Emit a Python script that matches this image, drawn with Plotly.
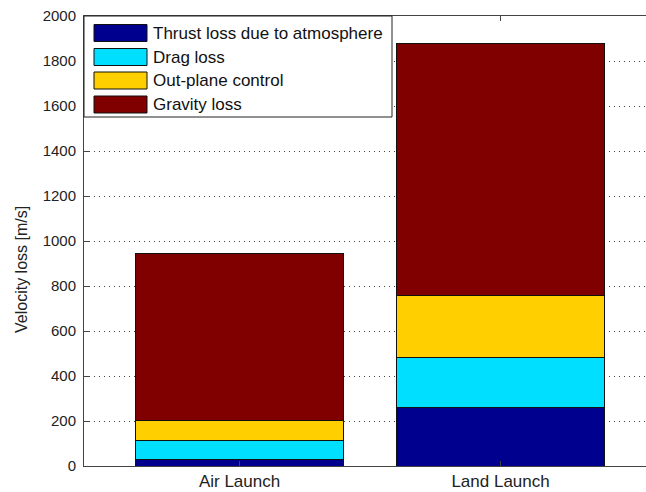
import plotly.graph_objects as go

# Stacked velocity-loss budget for two launch modes
categories = ["Air Launch", "Land Launch"]
series_names = ["Thrust loss due to atmosphere", "Drag loss", "Out-plane control", "Gravity loss"]
thrust_loss = [27, 259]
drag_loss = [85, 222]
outplane_control = [92, 275]
gravity_loss = [741, 1124]
series_values = [thrust_loss, drag_loss, outplane_control, gravity_loss]
series_colors = ["#00008F", "#00DFFF", "#FFCF00", "#800000"]
y_ticks = [0, 200, 400, 600, 800, 1000, 1200, 1400, 1600, 1800, 2000]

W, H = 646, 492
L, R, T, B = 84, 0, 16, 26
plot_w, plot_h = W - L - R, H - T - B

x_pos = list(range(1, len(categories) + 1))

fig = go.Figure()
for name, vals, col in zip(series_names, series_values, series_colors):
    fig.add_trace(go.Bar(
        x=x_pos, y=vals, name=name, width=0.8,
        marker=dict(color=col, line=dict(color="#111111", width=1)),
        showlegend=False,
    ))

# pixel -> paper helpers for the boxed legend
def px(xp):
    return (xp - L) / plot_w

def py(yp):
    return (H - B - yp) / plot_h

shapes = []
annotations = []
# legend frame
shapes.append(dict(type="rect", xref="paper", yref="paper",
                   x0=px(84), x1=px(392), y0=py(117), y1=py(16),
                   line=dict(color="#222222", width=1), fillcolor="white", layer="above"))
row_y = [33, 57, 80.5, 104.5]
for name, col, ry in zip(series_names, series_colors, row_y):
    shapes.append(dict(type="rect", xref="paper", yref="paper",
                       x0=px(94), x1=px(147), y0=py(ry + 8.5), y1=py(ry - 8.5),
                       line=dict(color="#111111", width=1), fillcolor=col, layer="above"))
    annotations.append(dict(xref="paper", yref="paper", x=px(151), y=py(ry),
                            text=name, showarrow=False, xanchor="left", yanchor="middle",
                            font=dict(family="Liberation Sans, Arial", size=17, color="#111111")))

# y-axis title
annotations.append(dict(xref="paper", yref="paper", x=px(21), y=py(270),
                        text="Velocity loss [m/s]", textangle=-90, showarrow=False,
                        xanchor="center", yanchor="middle",
                        font=dict(family="Liberation Sans, Arial", size=16, color="#222222")))

fig.update_layout(
    width=W, height=H,
    margin=dict(l=L, r=R, t=T, b=B, pad=0),
    barmode="stack",
    plot_bgcolor="white", paper_bgcolor="white",
    shapes=shapes, annotations=annotations,
    font=dict(family="Liberation Sans, Arial", size=15, color="#222222"),
)
fig.update_xaxes(
    range=[0.404, 0.404 + plot_w / 261.0],
    tickvals=x_pos, ticktext=categories,
    ticks="inside", ticklen=5, tickcolor="#444444",
    showline=True, linecolor="#444444", linewidth=1, mirror="ticks",
    showgrid=False, zeroline=False,
    tickfont=dict(size=17),
)
fig.update_yaxes(
    range=[0, 2000], tickvals=y_ticks,
    ticks="inside", ticklen=5, tickcolor="#444444",
    showline=True, linecolor="#444444", linewidth=1, mirror=False,
    showgrid=True, gridcolor="#444444", gridwidth=1, griddash="1px,4px",
    zeroline=False, ticklabelstandoff=4,
    tickfont=dict(size=15),
)

fig.write_html("out.html")
